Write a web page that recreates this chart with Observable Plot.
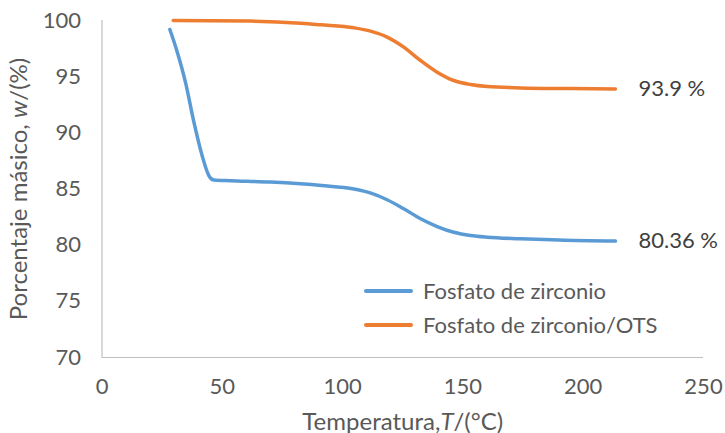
<!DOCTYPE html>
<html>
<head>
<meta charset="utf-8">
<script src="https://cdn.jsdelivr.net/npm/d3@7"></script>
<script src="https://cdn.jsdelivr.net/npm/@observablehq/plot@0.6"></script>
<style>
  body { margin: 0; background: #fff; font-family: Lato, "Open Sans", sans-serif; }
  #chart { position: relative; width: 725px; height: 433px; }
  .legend { position: absolute; left: 364px; top: 274px; color: #595959; font-size: 22px; line-height: 34px; }
  .legend .item { display: flex; align-items: center; white-space: nowrap; }
  .legend .swatch { display: inline-block; width: 49px; height: 3.5px; border-radius: 2px; margin-right: 10px; }
</style>
</head>
<body>
<div id="chart"></div>
<script>
// Thermogravimetric curves: mass percentage vs temperature
const seriesNames = ["Fosfato de zirconio", "Fosfato de zirconio/OTS"];
const seriesColors = ["#5B9BD5", "#ED7D31"];

const tempZr = [28.2, 31.3, 34.7, 38.2, 41.6, 44.4, 46.5, 53.4, 70, 82.5, 91.2, 104.7, 111.8, 118.5, 125.4, 132.4, 139.3, 146.2, 153.2, 160.1, 174, 190, 213.4];
const massZr = [99.2, 97.18, 94.5, 90.95, 87.98, 86.2, 85.8, 85.74, 85.62, 85.46, 85.31, 85.0, 84.63, 84.04, 83.24, 82.35, 81.66, 81.15, 80.86, 80.71, 80.57, 80.45, 80.36];

const tempOts = [29.6, 45, 61.7, 82.5, 90.8, 104.7, 111.6, 118.5, 125.4, 132.4, 139.3, 146.2, 153.2, 160.1, 174, 195, 213.4];
const massOts = [100.0, 99.98, 99.95, 99.76, 99.62, 99.35, 99.05, 98.52, 97.63, 96.44, 95.4, 94.66, 94.3, 94.12, 94.0, 93.94, 93.9];

const xTicks = [0, 50, 100, 150, 200, 250];
const yTicks = [70, 75, 80, 85, 90, 95, 100];
const xLabel = ["Temperatura,", "T", "/(°C)"];
const yLabel = ["Porcentaje másico, ", "w", "/(%)"];

const rows = [
  ...tempZr.map((t, i) => ({series: seriesNames[0], t, w: massZr[i]})),
  ...tempOts.map((t, i) => ({series: seriesNames[1], t, w: massOts[i]}))
];
const ends = [
  {series: seriesNames[0], t: tempZr.at(-1), w: massZr.at(-1)},
  {series: seriesNames[1], t: tempOts.at(-1), w: massOts.at(-1)}
];

const chart = Plot.plot({
  width: 725,
  height: 433,
  marginLeft: 101.5,
  marginRight: 22,
  marginTop: 20,
  marginBottom: 76,
  style: {fontFamily: "Lato, 'Open Sans', sans-serif", fontSize: "22px", color: "#595959", background: "#fff", overflow: "visible"},
  x: {domain: [0, 250]},
  y: {domain: [70, 100]},
  color: {domain: seriesNames, range: seriesColors},
  marks: [
    Plot.ruleX([0], {stroke: "#c0c0c0", strokeWidth: 1.2}),
    Plot.ruleY([70], {stroke: "#c0c0c0", strokeWidth: 1.2}),
    Plot.axisX({ticks: xTicks, tickSize: 0, tickPadding: 21, label: xLabel.join(""), labelAnchor: "center", labelArrow: "none", labelOffset: 72}),
    Plot.axisY({ticks: yTicks, tickSize: 0, tickPadding: 21, label: yLabel.join(""), labelAnchor: "center", labelArrow: "none", labelOffset: 92}),
    Plot.line(rows, {x: "t", y: "w", z: "series", stroke: "series", strokeWidth: 3.5, curve: "monotone-x"}),
    Plot.text(ends, {x: "t", y: "w", text: d => `${d.w} %`, dx: 23, textAnchor: "start", fill: "#404040"})
  ]
});

// Italicise the symbols in the axis titles and enlarge them
d3.select(chart).selectAll("text").each(function () {
  const txt = this.textContent;
  for (const parts of [xLabel, yLabel]) {
    if (txt === parts.join("")) {
      d3.select(this).style("font-size", "24px");
      const node = this.querySelector("tspan") || this;
      node.textContent = "";
      parts.forEach((p, i) => {
        const s = d3.select(node).append("tspan").text(p);
        if (i === 1) s.attr("font-style", "italic");
      });
    }
  }
});

const root = document.getElementById("chart");
root.appendChild(chart);

const legend = document.createElement("div");
legend.className = "legend";
seriesNames.forEach((name, i) => {
  const item = document.createElement("div");
  item.className = "item";
  const sw = document.createElement("span");
  sw.className = "swatch";
  sw.style.background = seriesColors[i];
  item.appendChild(sw);
  item.appendChild(document.createTextNode(name));
  legend.appendChild(item);
});
root.appendChild(legend);
</script>
</body>
</html>
